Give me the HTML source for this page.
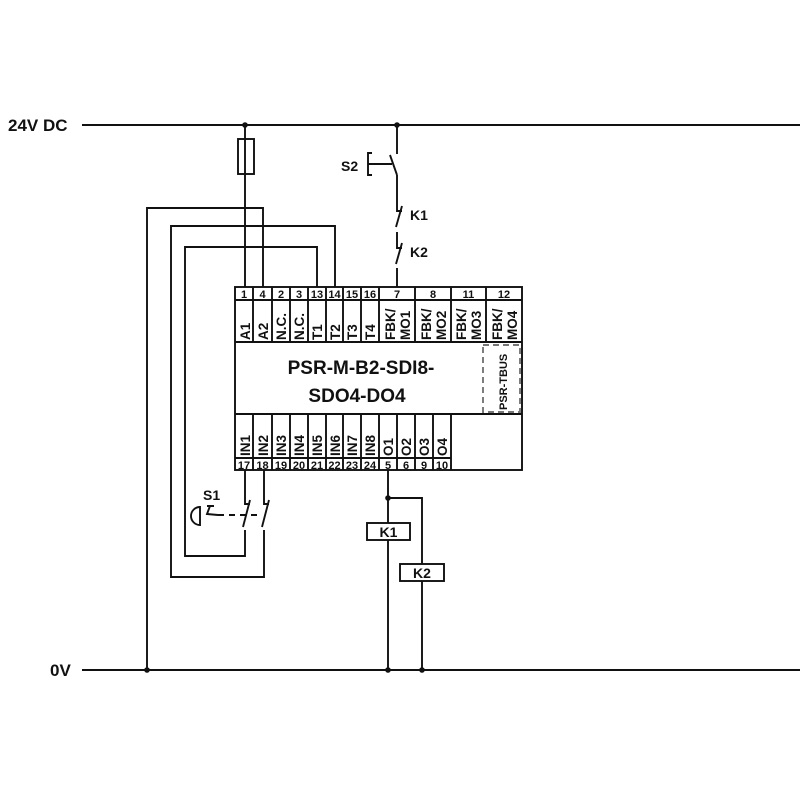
<!DOCTYPE html>
<html><head><meta charset="utf-8"><style>
html,body{margin:0;padding:0;background:#fff;}
svg{display:block;}
text{font-family:"Liberation Sans",Arial,sans-serif;font-weight:bold;fill:#111;}
</style></head><body>
<svg width="800" height="800" viewBox="0 0 800 800" xmlns="http://www.w3.org/2000/svg">
<g stroke="#111" stroke-width="1.9" fill="none">
<line x1="82" y1="125" x2="800" y2="125"/>
<line x1="82" y1="670" x2="800" y2="670"/>
<line x1="245" y1="125" x2="245" y2="287"/>
<rect x="238" y="139" width="16" height="35"/>
<polyline points="263,287 263,208 147,208 147,670"/>
<polyline points="335,287 335,226 171,226 171,577 264,577 264,530"/>
<polyline points="317,287 317,247 185,247 185,556 245,556 245,530"/>
<polyline points="245,470 245,504 250,504"/>
<line x1="250" y1="500" x2="243" y2="527"/>
<polyline points="264,470 264,504 269,504"/>
<line x1="269" y1="500" x2="262" y2="527"/>
<line x1="218" y1="515" x2="262" y2="515" stroke-dasharray="6,5"/>
<path d="M200,507 A9,9 0 0 0 200,525 Z"/>
<path d="M207,506 L214,506 M210,506 L207,514 L218,515"/>
<line x1="397" y1="125" x2="397" y2="154"/>
<line x1="390" y1="155" x2="397" y2="175"/>
<polyline points="397,175 397,211 402,211"/>
<line x1="368" y1="164" x2="392" y2="164"/>
<polyline points="372,153 368,153 368,175 372,175"/>
<line x1="402" y1="206" x2="396" y2="227"/>
<polyline points="397,232 397,248 402,248"/>
<line x1="402" y1="243" x2="396" y2="264"/>
<line x1="397" y1="268" x2="397" y2="287"/>
<line x1="388" y1="470" x2="388" y2="670"/>
<polyline points="388,498 422,498 422,670"/>
<rect x="367" y="523" width="43" height="17" fill="#fff"/>
<rect x="400" y="564" width="44" height="17" fill="#fff"/>
<rect x="235" y="287" width="287" height="183"/>
<line x1="235" y1="300" x2="522" y2="300"/>
<line x1="235" y1="342" x2="522" y2="342"/>
<line x1="235" y1="414" x2="522" y2="414"/>
<line x1="235" y1="458" x2="451" y2="458"/>
<path d="M253,287V342 M272,287V342 M290,287V342 M308,287V342 M326,287V342 M343,287V342 M361,287V342 M379,287V342 M415,287V342 M451,287V342 M486,287V342"/>
<path d="M253,414V470 M272,414V470 M290,414V470 M308,414V470 M326,414V470 M343,414V470 M361,414V470 M379,414V470 M397,414V470 M415,414V470 M433,414V470 M451,414V470"/>
<rect x="483" y="345" width="37" height="67" stroke-dasharray="6,4" stroke="#777"/>
</g>
<g fill="#111">
<circle cx="245" cy="125" r="2.8"/><circle cx="397" cy="125" r="2.8"/>
<circle cx="147" cy="670" r="2.8"/><circle cx="388" cy="670" r="2.8"/><circle cx="422" cy="670" r="2.8"/>
<circle cx="388" cy="498" r="2.8"/>
</g>
<text x="8" y="131" font-size="17">24V DC</text>
<text x="50" y="676" font-size="17">0V</text>
<text x="341" y="171" font-size="14">S2</text>
<text x="410" y="220" font-size="14">K1</text>
<text x="410" y="257" font-size="14">K2</text>
<text x="203" y="500" font-size="14">S1</text>
<text x="388.5" y="537" font-size="14" text-anchor="middle">K1</text>
<text x="422" y="578" font-size="14" text-anchor="middle">K2</text>
<text x="361" y="374" font-size="19" text-anchor="middle">PSR-M-B2-SDI8-</text>
<text x="357" y="402" font-size="19" text-anchor="middle">SDO4-DO4</text>
<g font-size="11" text-anchor="middle">
<text x="244" y="298">1</text><text x="262.5" y="298">4</text><text x="281" y="298">2</text><text x="299" y="298">3</text><text x="317" y="298">13</text><text x="334.5" y="298">14</text><text x="352" y="298">15</text><text x="370" y="298">16</text><text x="397" y="298">7</text><text x="433" y="298">8</text><text x="468.5" y="298">11</text><text x="504" y="298">12</text>
<text x="244" y="469">17</text><text x="262.5" y="469">18</text><text x="281" y="469">19</text><text x="299" y="469">20</text><text x="317" y="469">21</text><text x="334.5" y="469">22</text><text x="352" y="469">23</text><text x="370" y="469">24</text><text x="388" y="469">5</text><text x="406" y="469">6</text><text x="424" y="469">9</text><text x="442" y="469">10</text>
</g>
<g font-size="13.5">
<text transform="translate(250,340) rotate(-90)">A1</text>
<text transform="translate(268,340) rotate(-90)">A2</text>
<text transform="translate(286,340) rotate(-90)">N.C.</text>
<text transform="translate(304,340) rotate(-90)">N.C.</text>
<text transform="translate(322,340) rotate(-90)">T1</text>
<text transform="translate(340,340) rotate(-90)">T2</text>
<text transform="translate(357,340) rotate(-90)">T3</text>
<text transform="translate(375,340) rotate(-90)">T4</text>
<text transform="translate(395,340) rotate(-90)">FBK/</text>
<text transform="translate(410,340) rotate(-90)">MO1</text>
<text transform="translate(431,340) rotate(-90)">FBK/</text>
<text transform="translate(446,340) rotate(-90)">MO2</text>
<text transform="translate(466,340) rotate(-90)">FBK/</text>
<text transform="translate(481,340) rotate(-90)">MO3</text>
<text transform="translate(502,340) rotate(-90)">FBK/</text>
<text transform="translate(517,340) rotate(-90)">MO4</text>
<text transform="translate(250,456) rotate(-90)">IN1</text>
<text transform="translate(268,456) rotate(-90)">IN2</text>
<text transform="translate(286,456) rotate(-90)">IN3</text>
<text transform="translate(304,456) rotate(-90)">IN4</text>
<text transform="translate(322,456) rotate(-90)">IN5</text>
<text transform="translate(340,456) rotate(-90)">IN6</text>
<text transform="translate(357,456) rotate(-90)">IN7</text>
<text transform="translate(375,456) rotate(-90)">IN8</text>
<text transform="translate(393,456) rotate(-90)">O1</text>
<text transform="translate(411,456) rotate(-90)">O2</text>
<text transform="translate(429,456) rotate(-90)">O3</text>
<text transform="translate(447,456) rotate(-90)">O4</text>
</g>
<text transform="translate(507,410) rotate(-90)" font-size="11">PSR-TBUS</text>
</svg>
</body></html>
